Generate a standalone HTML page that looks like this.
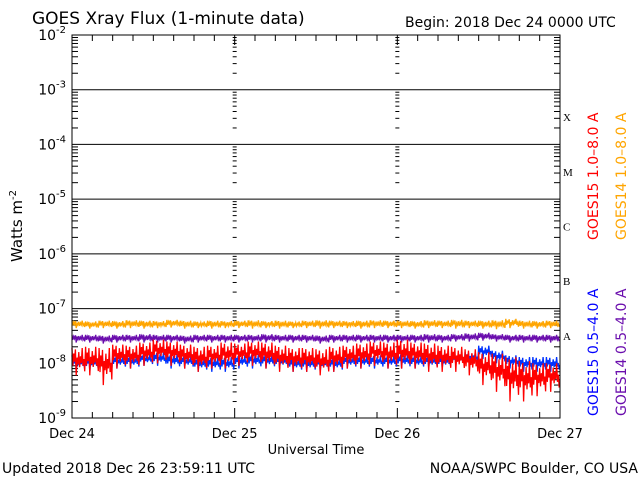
<!DOCTYPE html>
<html><head><meta charset="utf-8"><style>
body{margin:0;background:#fff}
svg{display:block;font-family:"DejaVu Sans","Liberation Sans",sans-serif}
</style></head><body>
<svg id="c" width="640" height="480" viewBox="0 0 640 480">
<text x="32" y="24" font-size="17">GOES Xray Flux (1-minute data)</text>
<text x="405" y="27" font-size="14">Begin:  2018 Dec 24 0000 UTC</text>
<text x="0" y="0" font-size="15" transform="translate(22,226) rotate(-90)" text-anchor="middle">Watts m<tspan dy="-6" font-size="10">-2</tspan></text>
<text x="316" y="454" font-size="13" text-anchor="middle">Universal Time</text>
<text x="2" y="473" font-size="14">Updated 2018 Dec 26 23:59:11 UTC</text>
<text x="638" y="473" font-size="14" text-anchor="end">NOAA/SWPC Boulder, CO USA</text>
<g font-size="14">
<text transform="translate(598,240) rotate(-90)" fill="#ff0000">GOES15 1.0–8.0 A</text>
<text transform="translate(626,240) rotate(-90)" fill="#ffa500">GOES14 1.0–8.0 A</text>
<text transform="translate(598,416) rotate(-90)" fill="#0000ff">GOES15 0.5–4.0 A</text>
<text transform="translate(626,416) rotate(-90)" fill="#6a0dad">GOES14 0.5–4.0 A</text>
</g>
<g id="axes"></g>
<g id="series"></g>
<rect x="72" y="35" width="488" height="383" fill="none" stroke="#000"/>
</svg>
<script>
const dayLabels=["Dec 24","Dec 25","Dec 26","Dec 27"];
const yExps=[-2,-3,-4,-5,-6,-7,-8,-9];
const classLetters=["X","M","C","B","A"];
const orangeHi=[60,58,60,59,61,60,59,62,60,58,60,59, 60,61,59,60,58,60,61,60,59,60,61,60, 60,59,61,60,62,60,60,61,65,60,59,60];
const orangeLo=[44,43,44,43,44,43,44,45,43,44,43,44, 44,43,44,43,44,44,43,44,44,43,44,44, 44,43,44,44,43,44,43,42,44,43,43,44];
const purpleHi=[33,33,32,33,33,34,33,33,32,33,33,33, 33,33,34,33,33,33,32,33,33,33,33,33, 33,33,34,33,34,35,36,34,33,33,33,33];
const purpleLo=[24,24,23,24,24,24,24,24,23,24,24,24, 24,24,24,24,24,24,23,24,24,24,24,24, 24,24,24,24,25,25,26,25,24,24,24,24];
const blueHi=[14,14,13,14,14,15,16,15,14,13,13,13, 14,15,15,14,13,13,13,13,14,14,14,14, 15,14,14,14,15,16,21,17,14,13,13,13];
const blueLo=[7,7,7,8,8,9,9,8,8,7,7,7, 8,8,8,8,7,7,7,7,8,8,8,8, 8,8,8,8,9,10,12,10,8,7,7,7];
const redHi=[19,20,19,22,21,24,27,25,22,20,21,24, 23,25,24,21,19,19,18,20,21,23,25,24, 27,24,23,21,20,18,16,15,13,11,10,10];
const redLo=[6,6,4,8,8,9,10,9,8,7,8,8, 9,9,8,7,7,7,6,7,8,8,9,8, 8,8,7,7,7,6,4,3,2,2,2.5,3];
const X0=72,X1=560,Y0=35,Y1=418;
const xs=t=>X0+(X1-X0)*t/72;
const ys=v=>Y0+(-2-Math.log10(v))*(Y1-Y0)/7;
const NS="http://www.w3.org/2000/svg";
const ax=document.getElementById('axes'),se=document.getElementById('series');
function mk(tag,at,par){const e=document.createElementNS(NS,tag);for(const k in at)e.setAttribute(k,at[k]);par.appendChild(e);return e;}
yExps.forEach(e=>{const y=ys(Math.pow(10,e));
 const t=mk('text',{x:66,y:y+5,'font-size':14,'text-anchor':'end'},ax);
 
 
 t.innerHTML='10<tspan dy="-7" font-size="10">'+e+'</tspan>';
 if(e<=-3&&e>=-7){const l=mk('line',{x1:X0,x2:X1,y1:y,y2:y,stroke:'#000'},ax);
  
  }
 if(e>-9){for(let m=2;m<=9;m++){const yy=ys(m*Math.pow(10,e-1));
  [[X0,X0+6],[X1-6,X1],[xs(24)-2,xs(24)+2],[xs(48)-2,xs(48)+2]].forEach(p=>{
   const l=mk('line',{x1:p[0],x2:p[1],y1:yy,y2:yy,stroke:'#000'},ax);
   
   });}}
});
classLetters.forEach((c,i)=>{const y=ys(Math.pow(10,-3.5-i));
 const t=mk('text',{x:563,y:y+4,'font-size':11,'font-family':'Liberation Serif,serif'},ax);
 
 
 t.textContent=c;});
dayLabels.forEach((d,i)=>{const x=xs(i*24);
 const t=mk('text',{x:x,y:438,'font-size':13,'text-anchor':'middle'},ax);
 
 
 t.textContent=d;});
for(let h=3;h<72;h+=3){const x=xs(h),L=h%24===0?10:6;
 const a=mk('line',{x1:x,x2:x,y1:Y1,y2:Y1-L,stroke:'#000'},ax);
 
 
 const b=mk('line',{x1:x,x2:x,y1:Y0,y2:Y0+L,stroke:'#000'},ax);
 
 }
const pat=[1,0.35,0.8,0.5,0.95,0,0.65,0.4,0.85,0.3,0.7,0.45,1,0.35,0.6,0.15];
function draw(hi,lo,col,name){const n=hi.length,S=16;let pts=[];
 for(let i=0;i<n;i++){const a=Math.log(lo[i]),b=Math.log(hi[i]);
  for(let k=0;k<S;k++){const t=(i+k/S)*72/n;
   const v=Math.exp(a+(b-a)*pat[k])*1e-9;
   pts.push(xs(t).toFixed(1)+','+ys(v).toFixed(1));}}
 const p=mk('polyline',{points:pts.join(' '),fill:'none',stroke:col,'stroke-width':1.3},se);
 
 }
draw(orangeHi,orangeLo,'#ffa500','series-goes14-long');
draw(purpleHi,purpleLo,'#6a0dad','series-goes14-short');
draw(blueHi,blueLo,'#0033ff','series-goes15-short');
draw(redHi,redLo,'#ff0000','series-goes15-long');
</script>
</body></html>
